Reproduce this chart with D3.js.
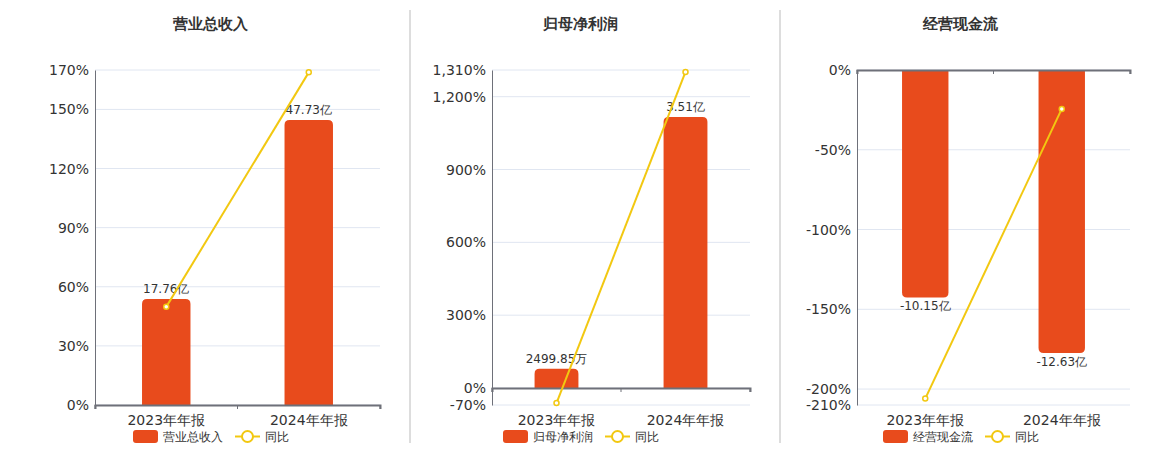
<!DOCTYPE html>
<html>
<head>
<meta charset="utf-8">
<script src="https://cdn.jsdelivr.net/npm/d3@7"></script>
<style>
  body { margin: 0; background: #fff; }
  svg { font-family: "DejaVu Sans", Verdana, sans-serif; }
</style>
</head>
<body>
<div id="app"></div>
<script>
const categories = ["2023年年报", "2024年年报"];

// 营业总收入 (亿)
const revenueValues = [17.76, 47.73];
const revenueLabels = ["17.76亿", "47.73亿"];
const revenueYoY = [49.8, 168.8];
const revenueTicks = [0, 30, 60, 90, 120, 150, 170];

// 归母净利润 (亿)
const profitValues = [0.249985, 3.51];
const profitLabels = ["2499.85万", "3.51亿"];
const profitYoY = [-62, 1302];
const profitTicks = [-70, 0, 300, 600, 900, 1200, 1310];

// 经营现金流 (亿)
const cashValues = [-10.15, -12.63];
const cashLabels = ["-10.15亿", "-12.63亿"];
const cashYoY = [-206, -24.4];
const cashTicks = [-210, -200, -150, -100, -50, 0];

const W = 1160, H = 450;
const barColor = "#E84B1C";
const lineColor = "#F2C811";
const axisColor = "#6E7079";
const gridColor = "#E0E6F1";

const svg = d3.select("#app").append("svg").attr("width", W).attr("height", H);

//panel separators
[410, 780].forEach((x) => {
  svg.append("line")
    .attr("x1", x).attr("x2", x).attr("y1", 10).attr("y2", 443)
    .attr("stroke", "#bbb").attr("stroke-width", 1);
});

// rounded outer-end bar path
const barPath = (x, w, y0, y1, r) => {
  const up = y1 < y0;
  const h = Math.abs(y1 - y0);
  r = Math.min(r, h / 2, w / 2);
  if (up) {
    return `M${x},${y0}V${y1 + r}Q${x},${y1} ${x + r},${y1}H${x + w - r}Q${x + w},${y1} ${x + w},${y1 + r}V${y0}Z`;
  }
  return `M${x},${y0}V${y1 - r}Q${x},${y1} ${x + r},${y1}H${x + w - r}Q${x + w},${y1} ${x + w},${y1 - r}V${y0}Z`;
};

const drawPanel = (cfg) => {
  const g = svg.append("g");
  const top = 70, bottom = 405;

  //title
  g.append("text")
    .attr("x", cfg.titleX).attr("y", 29)
    .attr("text-anchor", "middle")
    .attr("font-size", 15).attr("font-weight", "bold").attr("fill", "#333")
    .text(cfg.title);

  const xScale = d3.scaleBand().domain(categories).range([cfg.x0, cfg.x1]);
  const yPct = d3.scaleLinear()
    .domain([d3.min(cfg.ticks), d3.max(cfg.ticks)])
    .range([bottom, top]);
  const yBar = d3.scaleLinear().domain(cfg.barDomain).range([bottom, top]);

  //grid
  g.selectAll(".grid")
    .data(cfg.ticks)
    .join("line")
    .attr("x1", cfg.x0).attr("x2", cfg.x1)
    .attr("y1", (d) => yPct(d)).attr("y2", (d) => yPct(d))
    .attr("stroke", gridColor).attr("stroke-width", 1);

  //y-axis
  const yAxis = g.append("g")
    .attr("transform", `translate(${cfg.x0},0)`)
    .call(d3.axisLeft(yPct).tickValues(cfg.ticks).tickSize(0).tickPadding(6)
      .tickFormat((d) => d.toLocaleString("en-US") + "%"));
  yAxis.select(".domain").attr("stroke", axisColor);
  yAxis.selectAll("text")
    .attr("font-size", 14).attr("fill", "#333")
    .attr("font-family", "DejaVu Sans, sans-serif");

  //bars
  const bw = xScale.bandwidth() * 0.34;
  const zeroY = yBar(0);
  g.selectAll(".bar")
    .data(cfg.values)
    .join("path")
    .attr("fill", barColor)
    .attr("d", (d, i) => barPath(
      xScale(categories[i]) + xScale.bandwidth() / 2 - bw / 2, bw, zeroY, yBar(d), 5));

  //bar labels
  g.selectAll(".blabel")
    .data(cfg.values)
    .join("text")
    .attr("x", (d, i) => xScale(categories[i]) + xScale.bandwidth() / 2)
    .attr("y", (d) => d >= 0 ? yBar(d) - 6 : yBar(d) + 13)
    .attr("text-anchor", "middle")
    .attr("font-size", 12).attr("fill", "#333")
    .text((d, i) => cfg.labels[i]);

  //x-axis at zero
  const xAxis = g.append("g")
    .attr("transform", `translate(0,${yPct(0)})`)
    .call(d3.axisBottom(xScale).tickSizeOuter(4).tickSizeInner(4).tickFormat(""));
  xAxis.select(".domain").attr("stroke", axisColor).attr("stroke-width", 2);
  xAxis.selectAll(".tick line").attr("stroke", axisColor)
    .attr("transform", `translate(${-xScale.bandwidth() / 2},0)`);
  // closing tick at right end
  xAxis.append("line")
    .attr("x1", cfg.x1).attr("x2", cfg.x1).attr("y1", 0).attr("y2", 4)
    .attr("stroke", axisColor);

  //category labels
  g.selectAll(".cat")
    .data(categories)
    .join("text")
    .attr("x", (d) => xScale(d) + xScale.bandwidth() / 2)
    .attr("y", 425)
    .attr("text-anchor", "middle")
    .attr("font-size", 14).attr("fill", "#333")
    .text((d) => d);

  //yoy line
  const line = d3.line()
    .x((d, i) => xScale(categories[i]) + xScale.bandwidth() / 2)
    .y((d) => yPct(d));
  g.append("path")
    .datum(cfg.yoy)
    .attr("d", line)
    .attr("fill", "none").attr("stroke", lineColor).attr("stroke-width", 2);
  g.selectAll(".pt")
    .data(cfg.yoy)
    .join("circle")
    .attr("cx", (d, i) => xScale(categories[i]) + xScale.bandwidth() / 2)
    .attr("cy", (d) => yPct(d))
    .attr("r", 2.5)
    .attr("fill", "#fff").attr("stroke", lineColor).attr("stroke-width", 1.5);

  //legend
  const lx = cfg.legendX;
  g.append("rect")
    .attr("x", lx).attr("y", 430).attr("width", 25).attr("height", 13).attr("rx", 3)
    .attr("fill", barColor);
  const t1 = g.append("text")
    .attr("x", lx + 30).attr("y", 441)
    .attr("font-size", 12).attr("fill", "#333")
    .text(cfg.title);
  const tw = t1.node().getComputedTextLength();
  const l2 = lx + 30 + tw + 12;
  g.append("line")
    .attr("x1", l2).attr("x2", l2 + 25).attr("y1", 436.5).attr("y2", 436.5)
    .attr("stroke", lineColor).attr("stroke-width", 2);
  g.append("circle")
    .attr("cx", l2 + 12.5).attr("cy", 436.5).attr("r", 5.5)
    .attr("fill", "#fff").attr("stroke", lineColor).attr("stroke-width", 2);
  g.append("text")
    .attr("x", l2 + 30).attr("y", 441)
    .attr("font-size", 12).attr("fill", "#333")
    .text("同比");
};

drawPanel({
  title: "营业总收入", titleX: 210, x0: 95, x1: 380, legendX: 133,
  values: revenueValues, labels: revenueLabels, yoy: revenueYoY,
  ticks: revenueTicks, barDomain: [0, 56.1]
});
drawPanel({
  title: "归母净利润", titleX: 580, x0: 492, x1: 750, legendX: 503,
  values: profitValues, labels: profitLabels, yoy: profitYoY,
  ticks: profitTicks, barDomain: [-0.22, 4.12]
});
drawPanel({
  title: "经营现金流", titleX: 960, x0: 857, x1: 1130, legendX: 883,
  values: cashValues, labels: cashLabels, yoy: cashYoY,
  ticks: cashTicks, barDomain: [-14.95, 0]
});
</script>
</body>
</html>
